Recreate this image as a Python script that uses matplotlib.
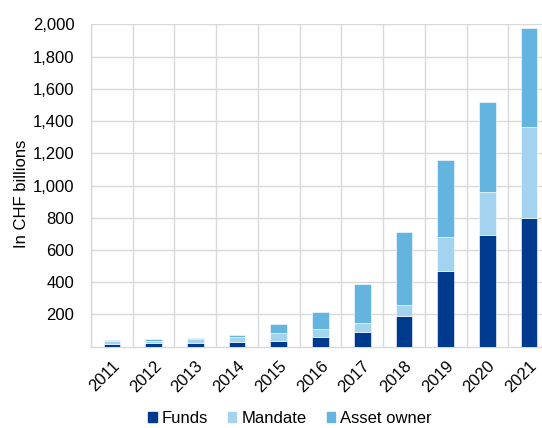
import matplotlib

matplotlib.use("Agg")
import matplotlib.pyplot as plt
import numpy as np
from matplotlib.patches import Patch
from matplotlib.ticker import FuncFormatter

plt.rcParams["font.family"] = ["Liberation Sans", "DejaVu Sans"]

years = ["2011", "2012", "2013", "2014", "2015", "2016", "2017", "2018", "2019", "2020", "2021"]
funds = [16, 20, 25, 30, 37, 62, 93, 188, 468, 693, 798]
mandate = [19, 18, 22, 32, 46, 46, 55, 70, 210, 267, 565]
asset_owner = [5, 7, 8, 8, 57, 105, 240, 455, 480, 556, 617]

colors = {"Funds": "#003a8f", "Mandate": "#a3d3ef", "Asset owner": "#63b4de"}

fig = plt.figure(figsize=(5.42, 4.28), dpi=100)
ax = fig.add_axes([91 / 542, 0.19, (550 - 91) / 542, 0.753])

x = np.arange(len(years))
width = 0.4
funds_a = np.array(funds)
mandate_a = np.array(mandate)
owner_a = np.array(asset_owner)

ax.bar(x, funds_a, width, color=colors["Funds"], edgecolor="white", linewidth=0.4, zorder=3)
ax.bar(x, mandate_a, width, bottom=funds_a, color=colors["Mandate"], edgecolor="white", linewidth=0.4, zorder=3)
ax.bar(x, owner_a, width, bottom=funds_a + mandate_a, color=colors["Asset owner"], edgecolor="white", linewidth=0.4, zorder=3)

ax.set_xlim(-0.5, len(years) - 0.5)
ax.set_ylim(0, 2000)
ax.set_yticks(np.arange(200, 2001, 200))
ax.yaxis.set_major_formatter(FuncFormatter(lambda v, _: f"{int(v):,}"))
ax.set_xticks(x)
ax.set_xticklabels(years, rotation=45, ha="right", rotation_mode="anchor", fontsize=12)
ax.tick_params(axis="y", labelsize=12, length=0, pad=12)
ax.tick_params(axis="x", length=0, pad=8)

# vertical grid between categories, horizontal grid at ticks
ax.set_xticks(np.arange(-0.5, len(years), 1), minor=True)
ax.grid(which="minor", axis="x", color="#d9d9d9", linewidth=1, zorder=0)
ax.grid(which="major", axis="y", color="#d9d9d9", linewidth=1, zorder=0)
ax.tick_params(which="minor", length=0)

for side in ["top", "right"]:
    ax.spines[side].set_visible(False)
for side in ["left", "bottom"]:
    ax.spines[side].set_color("#d9d9d9")
    ax.spines[side].set_linewidth(1)

ax.set_ylabel("In CHF billions", fontsize=12, labelpad=3, y=0.475)

handles = [Patch(color=c, label=k) for k, c in colors.items()]
fig.legend(handles=handles, loc="center", bbox_to_anchor=(0.535, 0.022), ncol=3, frameon=False,
           fontsize=12, handlelength=0.5, handleheight=0.5, handletextpad=0.3, columnspacing=1.2)

fig.savefig("out.png", dpi=100)
